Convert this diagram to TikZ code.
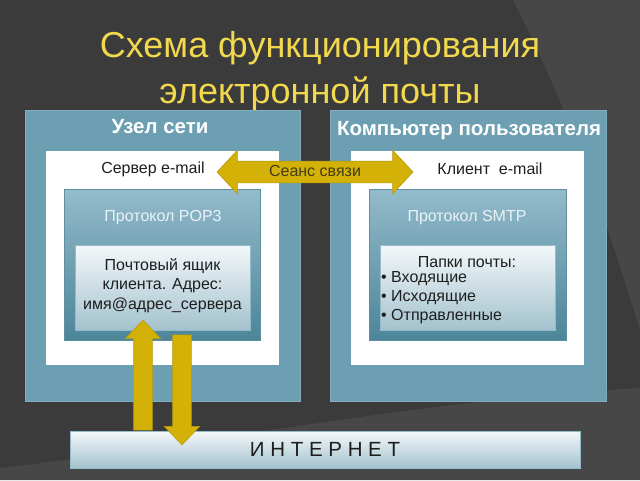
\documentclass[tikz,border=0pt]{standalone}
\usepackage{fontspec}
\setmainfont{Liberation Sans}
\usetikzlibrary{arrows.meta,calc,positioning,fit,shapes.arrows}
\definecolor{mailbg}{HTML}{3B3B3B}
\definecolor{mailbglight}{HTML}{474747}
\definecolor{mailteal}{HTML}{6B9FB1}
\definecolor{mailtealtop}{HTML}{93BBCB}
\definecolor{mailtealdeep}{HTML}{4C8599}
\definecolor{mailpale}{HTML}{F4F8FA}
\definecolor{mailpaledeep}{HTML}{A3C2CD}
\definecolor{mailgold}{HTML}{D4B106}
\definecolor{mailgoldline}{HTML}{B89C10}
\definecolor{mailtitle}{HTML}{F2D84C}
\definecolor{mailink}{HTML}{1E1E1E}
\definecolor{mailsoft}{HTML}{EAF2F5}
\tikzset{
  slidetitle/.style={font=\fontsize{36}{46}\selectfont, text=mailtitle, align=center},
  paneltitle/.style={font=\fontsize{20.5}{24}\selectfont\bfseries, text=white},
  paneltext/.style={font=\fontsize{16}{19.5}\selectfont, text=mailink},
  protolabel/.style={font=\fontsize{16}{19}\selectfont, text=mailsoft},
  panelbox/.style={fill=mailteal, draw=mailteal!85!white, line width=.6pt, inner sep=0pt},
  whitebox/.style={fill=white, inner sep=0pt},
  protobox/.style={top color=mailtealtop, bottom color=mailtealdeep,
    draw=mailteal!90!black, line width=.5pt, inner sep=0pt},
  palebox/.style={top color=mailpale, bottom color=mailpaledeep,
    draw=mailtealtop, line width=.6pt, inner sep=0pt},
  goldflow/.style={single arrow, fill=mailgold, draw=mailgoldline, line width=.6pt,
    minimum height=110pt, minimum width=35pt, single arrow head extend=8.5pt,
    single arrow tip angle=88, inner xsep=0pt, inner ysep=9pt},
  sessionflow/.style={double arrow, fill=mailgold, draw=mailgoldline, line width=.6pt,
    minimum height=196pt, minimum width=43pt, double arrow head extend=11pt,
    double arrow tip angle=94, inner xsep=0pt, inner ysep=3pt,
    text height=12pt, text depth=3pt,
    font=\fontsize{16}{18}\selectfont, text=mailink!80!mailgold}
}
\begin{document}
\begin{tikzpicture}[x=1pt,y=-1pt]
  \useasboundingbox (0,0) rectangle (640,480);
  % slide background
  \fill[mailbg] (0,0) rectangle (640,480);
  \fill[mailbglight] (513,0) .. controls (560,90) and (600,200) .. (640,330) -- (640,0) -- cycle;
  \fill[mailbglight] (0,468) .. controls (200,445) and (420,400) .. (640,388) -- (640,480) -- (0,480) -- cycle;

  \node[slidetitle] (title) at (320,71) {Схема функционирования\\электронной почты};

  % two machines
  \node[panelbox, fit={(25,110) (300,401)}] (hostpanel) {};
  \node[panelbox, fit={(330,110) (606,401)}] (userpanel) {};
  \node[paneltitle] (hosttitle) at (160,127) {Узел сети};
  \node[paneltitle] (usertitle) at (469,131) {Компьютер пользователя};

  \node[whitebox, fit={(46,151) (279,365)}] (server) {};
  \node[whitebox, fit={(351,151) (584,365)}] (client) {};
  \node[paneltext] (servertext) at (153,169) {Сервер e-mail};
  \node[paneltext] (clienttext) at (490,169) {Клиент~ e-mail};

  \node[protobox, fit={(64,189) (260,340)}] (pop3) {};
  \node[protobox, fit={(369,189) (566,340)}] (smtp) {};
  \node[protolabel] (pop3text) at (163,218) {Протокол POP3};
  \node[protolabel] (smtptext) at (467,218) {Протокол SMTP};

  \node[palebox, fit={(75,245) (250,330)}] (mailbox) {};
  \node[paneltext, align=center] (mailtext) at ([yshift=2pt]mailbox.center)
    {Почтовый ящик\\клиента. Адрес:\\имя@адрес\_сервера};
  \node[palebox, fit={(380,245) (555,330)}] (folders) {};
  \node[paneltext] (folderstitle) at (467,262) {Папки почты:};
  \node[paneltext, align=left, anchor=north west, inner sep=0pt,
    font=\fontsize{16}{19}\selectfont] (folderlist) at (381,271)
    {• Входящие\\• Исходящие\\• Отправленные};

  \node[palebox, fit={(70,431) (580,468)}] (internet) {};
  \node[font=\fontsize{20.5}{24}\selectfont, text=mailink] (internettext)
    at (internet.center) {И Н Т Е Р Н Е Т};

  % exchange arrows
  \node[sessionflow] (session) at (315,172) {Сеанс связи};
  \node[goldflow, rotate=90] (upflow) at (143,380) {};
  \node[goldflow, rotate=-90] (downflow) at (182,385) {};
\end{tikzpicture}
\end{document}
